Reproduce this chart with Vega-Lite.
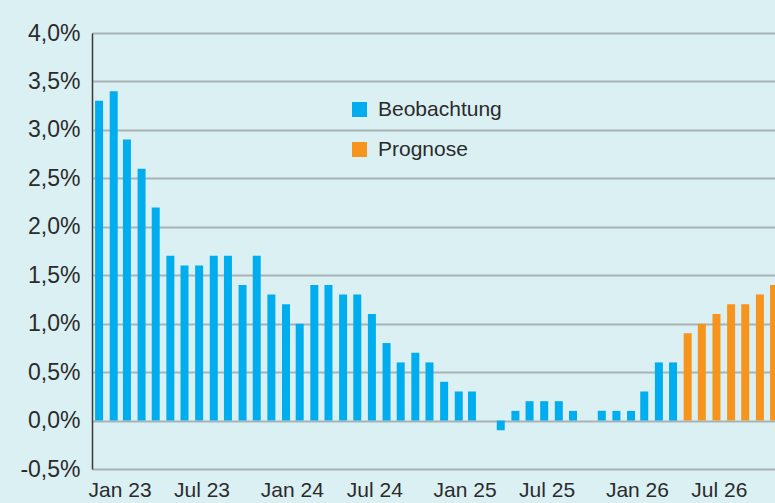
{
  "$schema": "https://vega.github.io/schema/vega-lite/v6.json",
  "autosize": "none",
  "width": 683,
  "height": 436,
  "padding": {"left": 92, "top": 33, "right": 0, "bottom": 34},
  "background": "#dbf0f3",
  "config": {
    "view": {"stroke": null, "fill": "#dbf0f3"},
    "font": "Liberation Sans"
  },
  "data": {
    "values": [
      {"date": "2023-01-01", "value": 3.3, "typ": "Beobachtung"},
      {"date": "2023-02-01", "value": 3.4, "typ": "Beobachtung"},
      {"date": "2023-03-01", "value": 2.9, "typ": "Beobachtung"},
      {"date": "2023-04-01", "value": 2.6, "typ": "Beobachtung"},
      {"date": "2023-05-01", "value": 2.2, "typ": "Beobachtung"},
      {"date": "2023-06-01", "value": 1.7, "typ": "Beobachtung"},
      {"date": "2023-07-01", "value": 1.6, "typ": "Beobachtung"},
      {"date": "2023-08-01", "value": 1.6, "typ": "Beobachtung"},
      {"date": "2023-09-01", "value": 1.7, "typ": "Beobachtung"},
      {"date": "2023-10-01", "value": 1.7, "typ": "Beobachtung"},
      {"date": "2023-11-01", "value": 1.4, "typ": "Beobachtung"},
      {"date": "2023-12-01", "value": 1.7, "typ": "Beobachtung"},
      {"date": "2024-01-01", "value": 1.3, "typ": "Beobachtung"},
      {"date": "2024-02-01", "value": 1.2, "typ": "Beobachtung"},
      {"date": "2024-03-01", "value": 1.0, "typ": "Beobachtung"},
      {"date": "2024-04-01", "value": 1.4, "typ": "Beobachtung"},
      {"date": "2024-05-01", "value": 1.4, "typ": "Beobachtung"},
      {"date": "2024-06-01", "value": 1.3, "typ": "Beobachtung"},
      {"date": "2024-07-01", "value": 1.3, "typ": "Beobachtung"},
      {"date": "2024-08-01", "value": 1.1, "typ": "Beobachtung"},
      {"date": "2024-09-01", "value": 0.8, "typ": "Beobachtung"},
      {"date": "2024-10-01", "value": 0.6, "typ": "Beobachtung"},
      {"date": "2024-11-01", "value": 0.7, "typ": "Beobachtung"},
      {"date": "2024-12-01", "value": 0.6, "typ": "Beobachtung"},
      {"date": "2025-01-01", "value": 0.4, "typ": "Beobachtung"},
      {"date": "2025-02-01", "value": 0.3, "typ": "Beobachtung"},
      {"date": "2025-03-01", "value": 0.3, "typ": "Beobachtung"},
      {"date": "2025-04-01", "value": 0.0, "typ": "Beobachtung"},
      {"date": "2025-05-01", "value": -0.1, "typ": "Beobachtung"},
      {"date": "2025-06-01", "value": 0.1, "typ": "Beobachtung"},
      {"date": "2025-07-01", "value": 0.2, "typ": "Beobachtung"},
      {"date": "2025-08-01", "value": 0.2, "typ": "Beobachtung"},
      {"date": "2025-09-01", "value": 0.2, "typ": "Beobachtung"},
      {"date": "2025-10-01", "value": 0.1, "typ": "Beobachtung"},
      {"date": "2025-11-01", "value": 0.0, "typ": "Beobachtung"},
      {"date": "2025-12-01", "value": 0.1, "typ": "Beobachtung"},
      {"date": "2026-01-01", "value": 0.1, "typ": "Beobachtung"},
      {"date": "2026-02-01", "value": 0.1, "typ": "Beobachtung"},
      {"date": "2026-03-01", "value": 0.3, "typ": "Beobachtung"},
      {"date": "2026-04-01", "value": 0.6, "typ": "Beobachtung"},
      {"date": "2026-05-01", "value": 0.6, "typ": "Beobachtung"},
      {"date": "2026-06-01", "value": 0.9, "typ": "Prognose"},
      {"date": "2026-07-01", "value": 1.0, "typ": "Prognose"},
      {"date": "2026-08-01", "value": 1.1, "typ": "Prognose"},
      {"date": "2026-09-01", "value": 1.2, "typ": "Prognose"},
      {"date": "2026-10-01", "value": 1.2, "typ": "Prognose"},
      {"date": "2026-11-01", "value": 1.3, "typ": "Prognose"},
      {"date": "2026-12-01", "value": 1.4, "typ": "Prognose"}
    ]
  },
  "mark": {"type": "bar", "width": 8, "clip": true},
  "encoding": {
    "x": {
      "field": "date",
      "type": "temporal",
      "scale": {"type": "utc", "domain": ["2022-12-17", "2026-12-03"], "padding": 0},
      "axis": {
        "title": null,
        "values": ["2023-01-01", "2023-07-01", "2024-01-01", "2024-07-01", "2025-01-01", "2025-07-01", "2026-01-01", "2026-07-01"],
        "labelExpr": "utcFormat(datum.value, '%b %y')",
        "grid": false,
        "domain": false,
        "ticks": false,
        "labelAlign": "left",
        "labelOffset": -11,
        "labelPadding": 10,
        "labelFontSize": 21,
        "labelColor": "#2b2b2b",
        "labelFont": "Liberation Sans",
        "labelOverlap": false,
        "labelBound": false
      }
    },
    "y": {
      "field": "value",
      "type": "quantitative",
      "scale": {"domain": [-0.5, 4.0], "nice": false, "zero": false},
      "axis": {
        "title": null,
        "values": [-0.5, 0, 0.5, 1.0, 1.5, 2.0, 2.5, 3.0, 3.5, 4.0],
        "labelExpr": "replace(replace(format(datum.value, '.1f'), '.', ','), '\u2212', '-') + '%'",
        "grid": true,
        "gridColor": "#a9b3b6",
        "gridWidth": 2,
        "domain": true,
        "domainColor": "#3a3a3a",
        "domainWidth": 1.5,
        "ticks": false,
        "labelPadding": 12,
        "labelFontSize": 23,
        "labelColor": "#2b2b2b",
        "labelFont": "Liberation Sans"
      }
    },
    "color": {
      "field": "typ",
      "type": "nominal",
      "scale": {"domain": ["Beobachtung", "Prognose"], "range": ["#00aeef", "#f7941d"]},
      "legend": {
        "title": null,
        "orient": "none",
        "legendX": 257,
        "legendY": 66,
        "symbolType": "square",
        "symbolSize": 225,
        "symbolOpacity": 1,
        "symbolStrokeWidth": 0,
        "labelFontSize": 21,
        "labelColor": "#2b2b2b",
        "labelFont": "Liberation Sans",
        "labelOffset": 8,
        "rowPadding": 18
      }
    }
  }
}
